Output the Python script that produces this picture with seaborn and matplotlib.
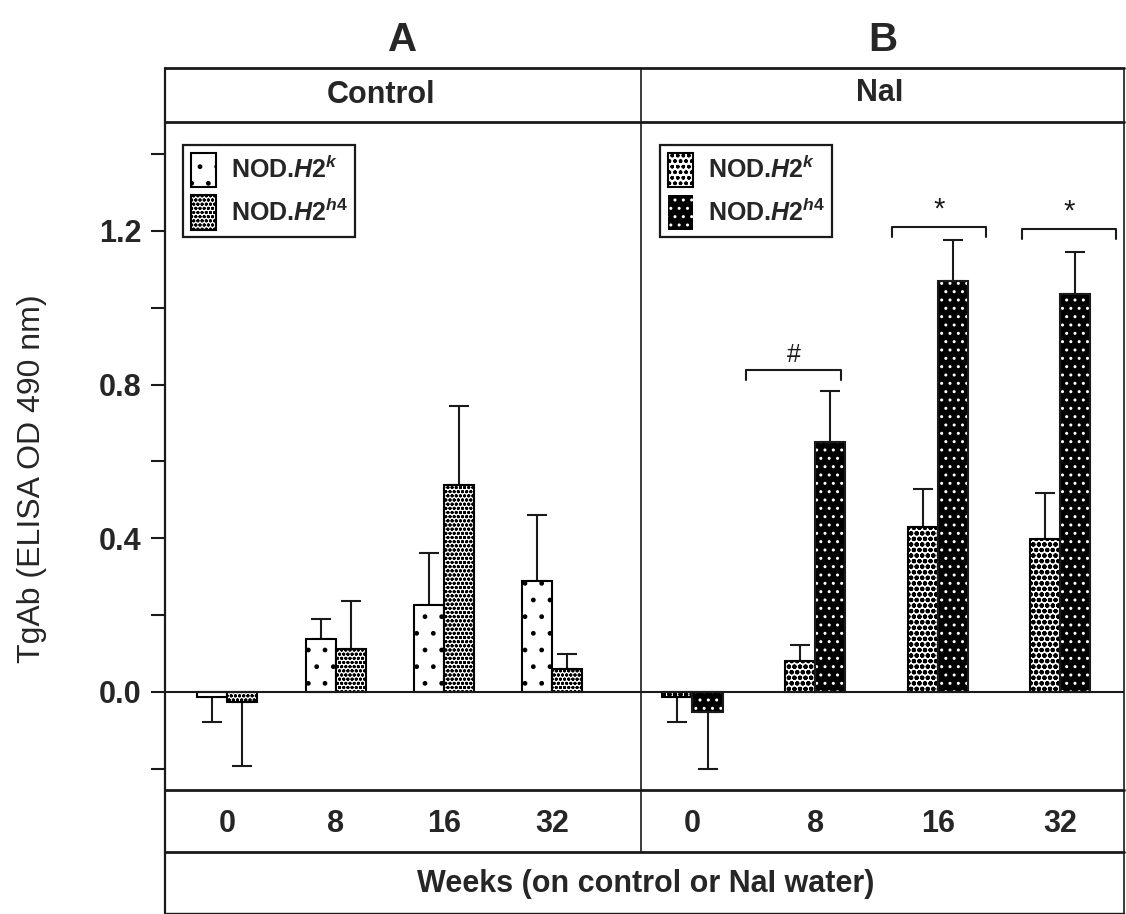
import numpy as np
import pandas as pd
import matplotlib
matplotlib.use("Agg")
import matplotlib.pyplot as plt
import seaborn as sns
from matplotlib.patches import Patch, Rectangle
from matplotlib.lines import Line2D

# ---------------- data ----------------
weeks = ["0", "8", "16", "32"]
strains = ["NOD.H2k", "NOD.H2h4"]
strain_labels = [r"NOD.$\mathit{H2}^{\mathit{k}}$", r"NOD.$\mathit{H2}^{\mathit{h4}}$"]

control_k = [-0.014, 0.138, 0.226, 0.289]
control_k_err = [0.063, 0.052, 0.136, 0.171]
control_h4 = [-0.025, 0.112, 0.539, 0.060]
control_h4_err = [0.167, 0.125, 0.205, 0.040]

nai_k = [-0.014, 0.080, 0.430, 0.398]
nai_k_err = [0.063, 0.042, 0.098, 0.120]
nai_h4 = [-0.051, 0.650, 1.069, 1.036]
nai_h4_err = [0.150, 0.134, 0.107, 0.109]

sig_groups = ["8", "16", "32"]
sig_labels = ["#", "*", "*"]
sig_levels = [0.838, 1.21, 1.205]

y_major = [0.0, 0.4, 0.8, 1.2]
y_major_labels = ["0.0", "0.4", "0.8", "1.2"]
y_minor = [-0.2, 0.2, 0.6, 1.0, 1.4]

# ---------------- style ----------------
sns.set_style("white")
plt.rcParams["font.family"] = ["Liberation Sans", "DejaVu Sans"]
plt.rcParams["mathtext.fontset"] = "custom"
plt.rcParams["mathtext.rm"] = "Liberation Sans:bold"
plt.rcParams["mathtext.it"] = "Liberation Sans:italic:bold"
plt.rcParams["mathtext.bf"] = "Liberation Sans:bold"
plt.rcParams["hatch.linewidth"] = 1.0

W, H = 1126, 914
fig = plt.figure(figsize=(W / 100, H / 100), dpi=100)
fig.patch.set_facecolor("white")


def fx(px):
    return px / W


def fy(py):
    return 1 - py / H


LINE = "#1a1a1a"
top_px, head_px, axbot_px, tickrow_px = 68, 122, 790, 852
left_px, mid_px, right_px = 165, 641, 1124

axA = fig.add_axes([fx(left_px), fy(axbot_px), (mid_px - left_px) / W, (axbot_px - head_px) / H])
axB = fig.add_axes([fx(mid_px), fy(axbot_px), (right_px - mid_px) / W, (axbot_px - head_px) / H])

panels = [
    (axA, control_k, control_k_err, control_h4, control_h4_err, 0.554, (-0.575, 3.82),
     [dict(fc="white", hatch=".", hc="black", hlw=1.0),
      dict(fc="white", hatch="oooo", hc="black", hlw=1.0)]),
    (axB, nai_k, nai_k_err, nai_h4, nai_h4_err, 0.49, (-0.42, 3.52),
     [dict(fc="white", hatch="ooo", hc="black", hlw=1.5),
      dict(fc="black", hatch="..", hc="white", hlw=1.0)]),
]


def style_patch(p, st):
    p.set_facecolor(st["fc"])
    p.set_hatch(st["hatch"])
    p.set_edgecolor(st["hc"])
    if hasattr(p, "set_hatch_linewidth"):
        try:
            p.set_hatch_linewidth(st["hlw"])
        except Exception:
            pass


for ax, kv, ke, hv, he, width, xlim, styles in panels:
    df = pd.DataFrame({
        "week": weeks * 2,
        "strain": [strains[0]] * len(weeks) + [strains[1]] * len(weeks),
        "value": kv + hv,
    })
    sns.barplot(data=df, x="week", y="value", hue="strain", order=weeks, hue_order=strains,
                width=width, ax=ax, legend=False, errorbar=None, palette=["white", "white"],
                saturation=1, edgecolor=LINE, linewidth=1.5, zorder=3)
    bars = [p for p in ax.patches if isinstance(p, Rectangle)]
    vals = kv + hv
    errs = ke + he
    centers = []
    for i, p in enumerate(bars[:2 * len(weeks)]):
        st = styles[0] if i < len(weeks) else styles[1]
        style_patch(p, st)
        if st["hc"] != "black":
            p.set_linewidth(0)
            ax.add_patch(Rectangle((p.get_x(), p.get_y()), p.get_width(), p.get_height(),
                                   fill=False, edgecolor=LINE, linewidth=1.5, zorder=4))
        centers.append(p.get_x() + p.get_width() / 2)
    vals_a = np.array(vals)
    errs_a = np.array(errs)
    lower = np.where(vals_a < 0, errs_a, 0)
    upper = np.where(vals_a >= 0, errs_a, 0)
    ax.errorbar(centers, vals_a, yerr=[lower, upper], fmt="none", ecolor=LINE,
                elinewidth=1.5, capsize=7.5, capthick=1.5, zorder=2)
    ax.axhline(0, color=LINE, lw=1.5, zorder=5)
    ax.set_xlim(*xlim)
    ax.set_ylim(-0.255, 1.483)
    ax.set_xlabel("")
    ax.set_ylabel("")
    for s in ax.spines.values():
        s.set_visible(False)
    ax.tick_params(axis="x", length=0, labelsize=22, pad=14)
    for lbl in ax.get_xticklabels():
        lbl.set_fontweight("bold")
    ax.set_facecolor("none")

    leg_handles = []
    for st in styles:
        h = Patch(facecolor=st["fc"], edgecolor=st["hc"], hatch=st["hatch"],
                  linewidth=1.5 if st["hc"] == "black" else 0)
        style_patch(h, st)
        leg_handles.append(h)
    leg = ax.legend(leg_handles, strain_labels, loc="upper left",
                    bbox_to_anchor=(0.038 if ax is axA else 0.04, (axbot_px - 145) / (axbot_px - head_px)),
                    borderaxespad=0, frameon=True, fancybox=False, framealpha=1,
                    edgecolor=LINE, prop={"weight": "bold", "size": 18},
                    handlelength=1.0, handleheight=1.76, handletextpad=0.6,
                    labelspacing=0.32, borderpad=0.3)
    leg.get_frame().set_linewidth(1.6)

# y axis on panel A
axA.set_yticks(y_major)
axA.set_yticklabels(y_major_labels)
axA.set_yticks(y_minor, minor=True)
axA.tick_params(axis="y", which="both", left=True, direction="out", length=10, width=1.5,
                color=LINE, labelsize=22, pad=7)
for lbl in axA.get_yticklabels():
    lbl.set_fontweight("bold")
axB.set_yticks([])

# significance brackets on panel B
bracket_offsets = [-0.175, 0.012, 0.073]
bracket_half = 0.385
bracket_drop = 0.026
for grp, lab, lev, off in zip(sig_groups, sig_labels, sig_levels, bracket_offsets):
    c = weeks.index(grp) + off
    axB.plot([c - bracket_half, c - bracket_half, c + bracket_half, c + bracket_half],
             [lev - bracket_drop, lev, lev, lev - bracket_drop], color=LINE, lw=1.5,
             solid_joinstyle="round", zorder=5)
    axB.text(c, lev + 0.008, lab, ha="center", va="bottom",
             fontsize=18 if lab == "#" else 21, color=LINE)

# table frame lines
def hline(py, x1, x2, lw=2.0):
    fig.add_artist(Line2D([fx(x1), fx(x2)], [fy(py), fy(py)], transform=fig.transFigure,
                          color=LINE, lw=lw, zorder=10))


def vline(px, y1, y2, lw=1.6):
    fig.add_artist(Line2D([fx(px), fx(px)], [fy(y1), fy(y2)], transform=fig.transFigure,
                          color=LINE, lw=lw, zorder=10))


hline(top_px, left_px, right_px)
hline(head_px, left_px, right_px)
hline(axbot_px, left_px, right_px)
hline(tickrow_px, left_px, right_px)
hline(912.5, left_px, right_px, lw=1.0)
vline(left_px, top_px, H)
vline(mid_px, top_px, tickrow_px, lw=1.2)
vline(right_px, top_px, H, lw=1.2)

# texts
fig.text(fx(403), fy(40), "A", ha="center", va="center", fontsize=29, fontweight="bold")
fig.text(fx(883), fy(40), "B", ha="center", va="center", fontsize=29, fontweight="bold")
fig.text(fx(381), fy(95), "Control", ha="center", va="center", fontsize=22, fontweight="bold")
fig.text(fx(880), fy(93), "NaI", ha="center", va="center", fontsize=22, fontweight="bold")
fig.text(fx(646), fy(884), "Weeks (on control or NaI water)", ha="center", va="center",
         fontsize=22, fontweight="bold")
fig.text(fx(32), fy(479), "TgAb (ELISA OD 490 nm)", ha="center", va="center", rotation=90,
         fontsize=23)

fig.savefig("out.png", dpi=100, facecolor="white")
